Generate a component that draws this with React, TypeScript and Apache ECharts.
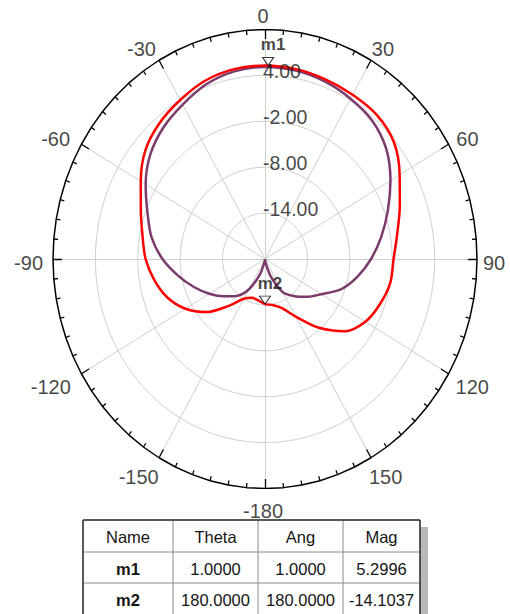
import React, { useEffect, useRef } from 'react';
import * as echarts from 'echarts';

// ---- data ----
const angles = [-180, -170, -160, -150, -140, -130, -120, -110, -100, -90, -80, -70, -60, -50, -40, -30, -20, -10, 0, 10, 20, 30, 40, 50, 60, 70, 80, 90, 100, 110, 120, 130, 140, 150, 160, 170, 180];
const redMag = [-14.1, -14.5, -14.6, -14.0, -12.0, -9.2, -7.0, -5.3, -4.1, -3.1, -2.4, -1.3, 0.3, 2.1, 3.2, 4.0, 4.8, 5.2, 5.3, 5.2, 5.0, 4.8, 4.6, 3.8, 2.0, 0.3, -1.0, -1.8, -2.0, -2.7, -3.6, -5.3, -8.3, -11.3, -13.2, -13.9, -14.1];
const purpleMag = [-20, -19.6, -17.8, -15.4, -13.7, -12.4, -10.9, -9.3, -7.5, -5.5, -3.7, -2.3, -0.5, 1.2, 2.4, 3.3, 4.3, 4.9, 5.1, 5.0, 4.7, 4.2, 3.6, 2.4, 0.5, -1.5, -3.3, -5.0, -6.7, -8.5, -10.8, -12.3, -13.7, -15.0, -17.5, -19.5, -20];
const rMin = -20;
const rMax = 10;
const ringValues = [-14, -8, -2, 4];
const angleTickValues = [0, 30, 60, 90, 120, 150, 180, -150, -120, -90, -60, -30];
const angleTickLabels = ['0', '30', '60', '90', '120', '150', '-180', '-150', '-120', '-90', '-60', '-30'];
const markerNames = ['m1', 'm2'];
const markerTheta = [1, 180];
const markerAng = [1, 180];
const markerMag = [5.2996, -14.1037];
const tableHeaders = ['Name', 'Theta', 'Ang', 'Mag'];

const FONT = '"Liberation Sans", Arial, sans-serif';
const TXT = '#141414';

const span = rMax - rMin;
const rad = (d: number) => (d * Math.PI) / 180;
const toXY = (deg: number, r: number) => [r * Math.sin(rad(deg)), r * Math.cos(rad(deg))];
const circle = (r: number, step: number) => {
  const pts: number[][] = [];
  for (let d = 0; d <= 360; d += step) pts.push(toXY(d, r));
  return pts;
};

export default function App() {
  const ref = useRef<HTMLDivElement>(null);
  useEffect(() => {
    document.body.style.margin = '0';
    const chart = echarts.init(ref.current!, null, { renderer: 'svg' });

    const ringSeries = ringValues.map((v) => ({
      type: 'line',
      data: circle(v - rMin, 2),
      symbol: 'none',
      silent: true,
      lineStyle: { color: '#cfcfcf', width: 1 },
      z: 1,
    }));

    const spokes = [];
    for (let d = 0; d < 360; d += 30) spokes.push({ coords: [[0, 0], toXY(d, span)] });

    const ticks = [];
    for (let d = 0; d < 360; d += 5) {
      const len = d % 30 === 0 ? 1.25 : 0.6;
      ticks.push({ coords: [toXY(d, span), toXY(d, span - len)] });
    }

    const curve = (mags: number[]) => angles.map((a, i) => toXY(a, Math.max(0, mags[i] - rMin)));

    const angleLabelData = angleTickValues.map((a, i) => {
      const s = Math.sin(rad(a));
      const c = Math.cos(rad(a));
      const txt = angleTickLabels[i];
      const w = txt.split('').reduce((acc, ch) => acc + (ch === '-' ? 0.333 : 0.556), 0) * 20;
      const extra = Math.sign(s) * Math.abs(s * c) * 10;
      return {
        name: txt,
        value: toXY(a, span),
        label: { offset: [s * (8 + w / 2) + extra - 2, -c * 18 + 4] },
      };
    });

    const ringLabelData = ringValues.map((v) => ({ name: v.toFixed(2), value: [0, v - rMin] }));

    const markerData = markerNames.map((n, i) => ({
      name: n,
      value: toXY(markerTheta[i], markerMag[i] - rMin),
    }));

    // table graphics
    const colX = [83, 173, 258, 343, 420];
    const rowY = [520, 552, 583, 616];
    const graphics: any[] = [];
    graphics.push({ type: 'rect', shape: { x: 420, y: 527, width: 8, height: 90 }, style: { fill: '#b8b8b8' }, silent: true });
    graphics.push({ type: 'rect', shape: { x: colX[0], y: rowY[0], width: colX[4] - colX[0], height: rowY[3] - rowY[0] }, style: { fill: '#fff', stroke: '#8c8c8c', lineWidth: 1 }, silent: true });
    for (let i = 1; i < 4; i++) {
      graphics.push({ type: 'line', shape: { x1: colX[i], y1: rowY[0], x2: colX[i], y2: rowY[3] }, style: { stroke: '#8c8c8c', lineWidth: 1 }, silent: true });
    }
    for (let j = 1; j < 3; j++) {
      graphics.push({ type: 'line', shape: { x1: colX[0], y1: rowY[j], x2: colX[4], y2: rowY[j] }, style: { stroke: '#8c8c8c', lineWidth: 1 }, silent: true });
    }
    graphics.push({ type: 'line', shape: { x1: colX[0], y1: rowY[0], x2: colX[4], y2: rowY[0] }, style: { stroke: '#333', lineWidth: 1.5 }, silent: true });
    graphics.push({ type: 'line', shape: { x1: colX[0], y1: rowY[0], x2: colX[0], y2: rowY[3] }, style: { stroke: '#333', lineWidth: 1.5 }, silent: true });
    graphics.push({ type: 'line', shape: { x1: colX[4], y1: rowY[0], x2: colX[4], y2: rowY[3] }, style: { stroke: '#333', lineWidth: 1.5 }, silent: true });
    const cellText = (text: string, col: number, row: number, bold: boolean) => ({
      type: 'text',
      x: (colX[col] + colX[col + 1]) / 2,
      y: (rowY[row] + Math.min(rowY[row + 1], 614)) / 2 + 1,
      silent: true,
      style: {
        text,
        fill: TXT,
        fontFamily: FONT,
        fontSize: 16.5,
        fontWeight: bold ? 'bold' : 'normal',
        align: 'center',
        verticalAlign: 'middle',
      },
    });
    tableHeaders.forEach((h, c) => graphics.push(cellText(h, c, 0, false)));
    markerNames.forEach((n, r) => {
      graphics.push(cellText(n, 0, r + 1, true));
      graphics.push(cellText(markerTheta[r].toFixed(4), 1, r + 1, false));
      graphics.push(cellText(markerAng[r].toFixed(4), 2, r + 1, false));
      graphics.push(cellText(markerMag[r].toFixed(4), 3, r + 1, false));
    });

    chart.setOption({
      animation: false,
      backgroundColor: '#fff',
      grid: { left: 53, right: 33, top: 29.5, bottom: 125.5, containLabel: false },
      xAxis: { type: 'value', min: -span, max: span, show: false },
      yAxis: { type: 'value', min: -span, max: span, show: false },
      graphic: graphics,
      series: [
        ...ringSeries,
        {
          type: 'lines',
          coordinateSystem: 'cartesian2d',
          data: spokes,
          silent: true,
          lineStyle: { color: '#cfcfcf', width: 1, opacity: 1 },
          z: 1,
        },
        {
          type: 'line',
          data: circle(span, 5),
          symbol: 'none',
          silent: true,
          lineStyle: { color: '#000', width: 1.5 },
          z: 2,
        },
        {
          type: 'lines',
          coordinateSystem: 'cartesian2d',
          data: ticks,
          silent: true,
          lineStyle: { color: '#000', width: 1.3, opacity: 1 },
          z: 2,
        },
        {
          type: 'line',
          data: curve(purpleMag),
          symbol: 'none',
          smooth: 0.3,
          lineStyle: { color: '#7b3b6b', width: 2.5 },
          z: 3,
        },
        {
          type: 'line',
          data: curve(redMag),
          symbol: 'none',
          smooth: 0.3,
          lineStyle: { color: '#ff0000', width: 2.5 },
          z: 4,
        },
        {
          type: 'scatter',
          data: ringLabelData,
          symbolSize: 1,
          itemStyle: { color: 'rgba(0,0,0,0)' },
          silent: true,
          z: 6,
          label: {
            show: true,
            formatter: '{b}',
            position: 'inside',
            align: 'left',
            verticalAlign: 'middle',
            offset: [-2, -4],
            fontFamily: FONT,
            fontSize: 19.5,
            color: TXT,
          },
        },
        {
          type: 'scatter',
          data: angleLabelData,
          symbolSize: 1,
          itemStyle: { color: 'rgba(0,0,0,0)' },
          silent: true,
          z: 6,
          label: {
            show: true,
            formatter: '{b}',
            position: 'inside',
            align: 'center',
            verticalAlign: 'middle',
            fontFamily: FONT,
            fontSize: 20,
            color: TXT,
          },
        },
        {
          type: 'scatter',
          data: markerData,
          symbol: 'triangle',
          symbolRotate: 180,
          symbolSize: [11, 8],
          symbolOffset: [0, -4],
          itemStyle: { color: '#fff', borderColor: '#000', borderWidth: 1 },
          silent: true,
          z: 7,
        },
        {
          type: 'scatter',
          data: markerData,
          symbolSize: 1,
          itemStyle: { color: 'rgba(0,0,0,0)' },
          silent: true,
          z: 8,
          label: {
            show: true,
            formatter: '{b}',
            position: 'inside',
            offset: [5, -21],
            fontFamily: FONT,
            fontSize: 17,
            fontWeight: 'bold',
            color: TXT,
          },
        },
      ],
    });
    return () => chart.dispose();
  }, []);
  return <div ref={ref} style={{ width: 510, height: 614 }} />;
}
